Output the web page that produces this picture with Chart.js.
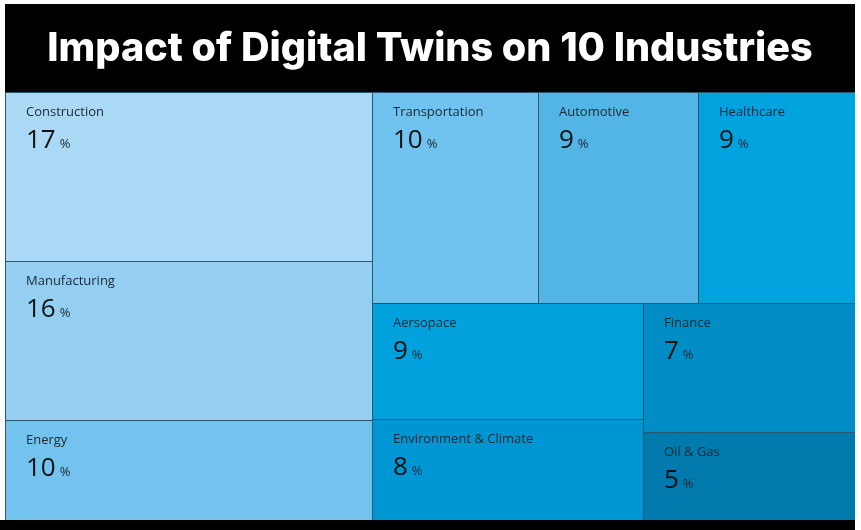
<!DOCTYPE html>
<html><head><meta charset="utf-8">
<script src="https://cdn.jsdelivr.net/npm/chart.js@4.4.1/dist/chart.umd.min.js"></script>
<style>html,body{margin:0;padding:0;background:#fff;}canvas{display:block;}</style>
</head><body>
<canvas id="c" width="861" height="530"></canvas>
<script>
// ---- data ----
const industries = ['Construction','Manufacturing','Energy','Transportation','Automotive','Healthcare','Aersopace','Environment & Climate','Finance','Oil & Gas'];
const values = [17.0, 16.0, 10.1, 9.6, 9.2, 9.1, 8.6, 7.5, 7.49, 5.15];
const colors = ['#abd8f5','#94cff2','#74c3ee','#6fc3ee','#53b4e6','#00a3de','#00a1dc','#0096d3','#008cc5','#007aad'];
// nesting of the treemap (indices into the arrays above), split direction alternates x / y by depth
const layoutTree = [[0,1,2],[[3,4,5],[[6,7],[8,9]]]];
const titleText = 'Impact of Digital Twins on 10 Industries';

function sumNode(n){ return Array.isArray(n) ? n.reduce((s,c)=>s+sumNode(c),0) : values[n]; }
function layout(node,x0,y0,x1,y1,depth,out){
  if(!Array.isArray(node)){ out[node]={x0,y0,x1,y1}; return; }
  const total=sumNode(node);
  let pos = depth%2===0 ? x0 : y0;
  node.forEach(ch=>{
    const f=sumNode(ch)/total;
    if(depth%2===0){ const w=(x1-x0)*f; layout(ch,pos,y0,pos+w,y1,depth+1,out); pos+=w; }
    else { const h=(y1-y0)*f; layout(ch,x0,pos,x1,pos+h,depth+1,out); pos+=h; }
  });
}
const rects=[]; layout(layoutTree,0,0,1,1,0,rects);

const datasets = industries.map((name,i)=>({
  label:name,
  data:[{x:rects[i].x0,y:rects[i].y0},{x:rects[i].x1,y:rects[i].y1}],
  backgroundColor:colors[i],
  pointRadius:0, showLine:false
}));

function cellBox(chart,i){
  const p=chart.getDatasetMeta(i).data;
  const x0=Math.round(p[0].x), y0=Math.round(p[0].y), x1=Math.round(p[1].x), y1=Math.round(p[1].y);
  return {x0,y0,x1,y1};
}

const backdrop = {
  id:'backdrop',
  beforeDraw(chart){
    const ctx=chart.ctx, a=chart.chartArea;
    const top = chart.titleBlock ? chart.titleBlock.top : 0;
    ctx.save();
    ctx.fillStyle='#000';
    ctx.fillRect(a.left, top, a.right-a.left, a.top-top);
    ctx.fillRect(0, a.bottom, a.right, chart.height-a.bottom);
    ctx.restore();
  }
};

const treemapCells = {
  id:'treemapCells',
  beforeDatasetsDraw(chart){
    const ctx=chart.ctx;
    ctx.save();
    chart.data.datasets.forEach((ds,i)=>{
      const b=cellBox(chart,i);
      ctx.fillStyle=ds.backgroundColor;
      ctx.fillRect(b.x0,b.y0,b.x1-b.x0,b.y1-b.y0);
    });
    ctx.fillStyle='#2a5573';
    chart.data.datasets.forEach((ds,i)=>{
      const b=cellBox(chart,i);
      ctx.fillRect(b.x0,b.y0,b.x1-b.x0,1);
      ctx.fillRect(b.x0,b.y0,1,b.y1-b.y0);
    });
    ctx.restore();
  },
  afterDatasetsDraw(chart){
    const ctx=chart.ctx;
    ctx.save();
    ctx.textAlign='left'; ctx.textBaseline='alphabetic';
    chart.data.datasets.forEach((ds,i)=>{
      const b=cellBox(chart,i);
      ctx.fillStyle='#1c2833';
      ctx.font='13px "Open Sans"';
      ctx.fillText(ds.label, b.x0+21, b.y0+24);
      const num=String(Math.round(values[i]));
      ctx.fillStyle='#111';
      ctx.font='26px "Open Sans"';
      ctx.fillText(num, b.x0+21, b.y0+56);
      const w=ctx.measureText(num).width;
      ctx.font='13px "Open Sans"';
      ctx.fillStyle='#1c2833';
      ctx.fillText('%', b.x0+21+w+4, b.y0+56);
    });
    ctx.restore();
  }
};

new Chart(document.getElementById('c'),{
  type:'scatter',
  data:{datasets},
  options:{
    responsive:false,
    devicePixelRatio:1,
    animation:false,
    events:[],
    layout:{padding:{left:5,right:6,top:4,bottom:10}},
    scales:{
      x:{type:'linear',min:0,max:1,display:false},
      y:{type:'linear',min:0,max:1,reverse:true,display:false}
    },
    plugins:{
      legend:{display:false},
      tooltip:{enabled:false},
      title:{display:true,text:titleText,color:'#fff',
        font:{family:'Inter',size:39.6,weight:'800',lineHeight:1.2},
        padding:{top:21,bottom:19.5}}
    }
  },
  plugins:[backdrop,treemapCells]
});
</script>
</body></html>
